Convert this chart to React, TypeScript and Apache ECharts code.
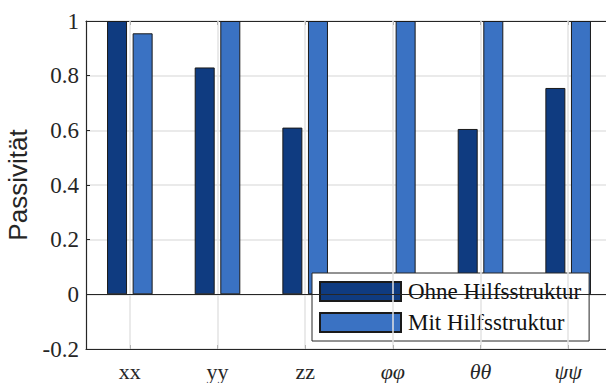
import React, { useEffect, useRef } from "react";
import * as echarts from "echarts";

const categories = ["xx", "yy", "zz", "φφ", "θθ", "ψψ"];
const italicCats = [false, false, false, true, true, true];
const ohneValues = [1, 0.83, 0.61, 0, 0.605, 0.755];
const mitValues = [0.955, 1, 1, 1, 1, 1];
const seriesNames = ["Ohne Hilfsstruktur", "Mit Hilfsstruktur"];
const yTicks = { min: -0.2, max: 1, interval: 0.2 };

const SERIF = "'Liberation Serif', 'DejaVu Serif', serif";
const SANS = "'Liberation Sans', Arial, sans-serif";
const AXIS = "#262626";
const GRIDC = "#e3e3e3";

export default function App() {
  const ref = useRef<HTMLDivElement>(null);
  useEffect(() => {
    document.body.style.margin = "0";
    document.body.style.overflow = "hidden";
    const chart = echarts.init(ref.current!, null, { renderer: "svg" });
    const catLabel = {
      show: true,
      interval: 0,
      margin: 11,
      fontFamily: SERIF,
      fontSize: 22,
      lineHeight: 22,
      color: AXIS,
      formatter: (v: string) => {
        const i = categories.indexOf(v);
        return italicCats[i] ? `{it|${v}}` : `{rm|${v}}`;
      },
      rich: {
        it: { fontFamily: SERIF, fontSize: 22, lineHeight: 22, fontStyle: "italic", color: AXIS },
        rm: { fontFamily: SERIF, fontSize: 22, lineHeight: 22, color: AXIS },
      },
    };
    const catTick = { show: true, interval: 0, inside: true, alignWithLabel: true, length: 4, lineStyle: { color: AXIS } };
    const boxLine = { show: true, onZero: false, lineStyle: { color: AXIS, width: 1.2 } };
    chart.setOption({
      animation: false,
      backgroundColor: "#fff",
      grid: {
        left: 86,
        top: 21,
        width: 526,
        height: 328,
        show: false,
        containLabel: false,
        outerBoundsMode: "none",
      },
      legend: {
        orient: "vertical",
        left: 312,
        top: 273,
        padding: [7, 8, 7, 7],
        itemGap: 8,
        itemWidth: 81,
        itemHeight: 19,
        icon: "rect",
        backgroundColor: "#fff",
        borderColor: AXIS,
        borderWidth: 1,
        borderRadius: 0,
        data: seriesNames,
        textStyle: {
          fontFamily: SERIF,
          fontSize: 23,
          color: "#111",
          padding: [0, 0, 0, 2],
        },
      },
      xAxis: [
        {
          type: "category",
          data: categories,
          position: "bottom",
          boundaryGap: true,
          axisLine: boxLine,
          axisTick: catTick,
          splitLine: { show: false },
          axisLabel: catLabel,
        },
        {
          type: "category",
          data: categories,
          position: "top",
          boundaryGap: true,
          axisLine: boxLine,
          axisTick: catTick,
          axisLabel: { show: false, interval: 0 },
          splitLine: { show: false },
        },
      ],
      yAxis: [
        {
          type: "value",
          position: "left",
          min: yTicks.min,
          max: yTicks.max,
          interval: yTicks.interval,
          name: "Passivität",
          nameLocation: "middle",
          nameGap: 55,
          nameTextStyle: { fontFamily: SANS, fontSize: 26, color: AXIS },
          axisLine: boxLine,
          axisTick: { show: true, inside: true, length: 4, lineStyle: { color: AXIS } },
          splitLine: { show: true, lineStyle: { color: GRIDC, width: 1.5 } },
          axisLabel: {
            margin: 7,
            fontFamily: SERIF,
            fontSize: 23,
            color: AXIS,
            formatter: (v: number) => String(Math.round(v * 10) / 10),
          },
        },
      ],
      series: [
        {
          name: "grid-x",
          type: "line",
          data: [],
          silent: true,
          z: 1,
          markLine: {
            silent: true,
            symbol: "none",
            label: { show: false },
            lineStyle: { color: GRIDC, width: 1.5, type: "solid" },
            data: categories.map((c) => ({ xAxis: c })),
          },
        },
        {
          name: seriesNames[0],
          type: "bar",
          data: ohneValues,
          barWidth: 20,
          barGap: "28%",
          itemStyle: { color: "#0f3b80", borderColor: "#1a1a1a", borderWidth: 1 },
          markLine: {
            silent: true,
            symbol: "none",
            label: { show: false },
            lineStyle: { color: AXIS, width: 1.2, type: "solid" },
            data: [{ yAxis: 0 }],
          },
          z: 3,
        },
        {
          name: seriesNames[1],
          type: "bar",
          data: mitValues,
          barWidth: 20,
          barGap: "28%",
          itemStyle: { color: "#3a72c3", borderColor: "#1a1a1a", borderWidth: 1 },
          z: 3,
        },
      ],
    });
    return () => chart.dispose();
  }, []);
  return (
    <div
      ref={ref}
      style={{ position: "fixed", left: 0, top: 0, width: 640, height: 383, background: "#fff" }}
    />
  );
}
